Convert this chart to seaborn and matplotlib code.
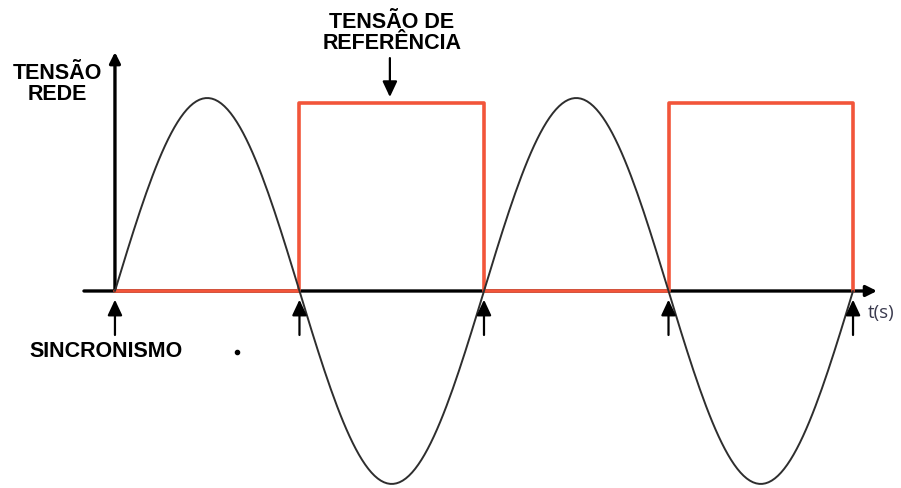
import numpy as np
import pandas as pd
import matplotlib
matplotlib.use("Agg")
import matplotlib.pyplot as plt
import seaborn as sns

# ---- data ----
crossings = [0, 1, 2, 3, 4]            # zero crossings of mains voltage (half cycles)
sine_peaks = [1.0, -1.0, 1.0, -1.0]    # peak of each half cycle
ref_levels = [0.0, 0.975, 0.0, 0.975]  # reference square wave level per half cycle
labels_rede = "TENSÃO\nREDE"
labels_ref = "TENSÃO DE\nREFERÊNCIA"
label_sync = "SINCRONISMO"
label_t = "t(s)"

sns.set_theme(style="white")
plt.rcParams['font.family'] = ['Liberation Sans', 'DejaVu Sans']

# sine shape per half cycle
rows = []
for i, pk in enumerate(sine_peaks):
    tt = np.linspace(crossings[i], crossings[i + 1], 60)
    for t in tt:
        rows.append((t, pk * np.sin(np.pi * (t - crossings[i]))))
sine_df = pd.DataFrame(rows, columns=["t", "v"])

ref_df = pd.DataFrame({"t": crossings, "v": ref_levels + [0.0]})

fig = plt.figure(figsize=(9.01, 4.88), dpi=100)
ax = fig.add_axes([0, 0, 1, 1])
ax.set_xlim(-0.623, 4.260)
ax.set_ylim(-1.021, 1.508)
ax.axis("off")

# axes arrows
ax.annotate("", xy=(4.13, 0), xytext=(-0.168, 0),
            arrowprops=dict(arrowstyle="-|>", color="black", lw=2.4,
                            mutation_scale=16, shrinkA=0, shrinkB=0), zorder=1)
ax.annotate("", xy=(0, 1.238), xytext=(0, 0),
            arrowprops=dict(arrowstyle="-|>", color="black", lw=2.4,
                            mutation_scale=16, shrinkA=0, shrinkB=0), zorder=1)

# reference square wave
sns.lineplot(data=ref_df, x="t", y="v", ax=ax, color="#f2553a", lw=2.6,
             drawstyle="steps-post", zorder=3, estimator=None, sort=False)
# mains sine
sns.lineplot(data=sine_df, x="t", y="v", ax=ax, color="#2e2e2e", lw=1.4,
             zorder=4, estimator=None, sort=False)

head = "-|>,head_length=0.47,head_width=0.22"
# sync arrows
for c in crossings:
    ax.annotate("", xy=(c, -0.045), xytext=(c, -0.228),
                arrowprops=dict(arrowstyle=head, color="black", lw=1.6,
                                mutation_scale=20, shrinkA=0, shrinkB=0), zorder=5)

# reference arrow
ax.annotate("", xy=(1.49, 1.005), xytext=(1.49, 1.207),
            arrowprops=dict(arrowstyle=head, color="black", lw=1.6,
                            mutation_scale=20, shrinkA=0, shrinkB=0), zorder=5)

ax.text(-0.314, 1.073, labels_rede, ha="center", va="center", fontsize=15.5,
        fontweight="bold", linespacing=1.0, color="black")
ax.text(1.501, 1.335, labels_ref, ha="center", va="center", fontsize=15.5,
        fontweight="bold", linespacing=1.0, color="black")
ax.text(-0.465, -0.316, label_sync, ha="left", va="center", fontsize=15.5,
        fontweight="bold", color="black")
ax.plot([0.661], [-0.316], marker="o", ms=3, color="black")
ax.text(4.08, -0.115, label_t, ha="left", va="center", fontsize=13.5,
        family=["Open Sans", "DejaVu Sans"], color="#3a3a4e")

fig.savefig("out.png", dpi=100)
